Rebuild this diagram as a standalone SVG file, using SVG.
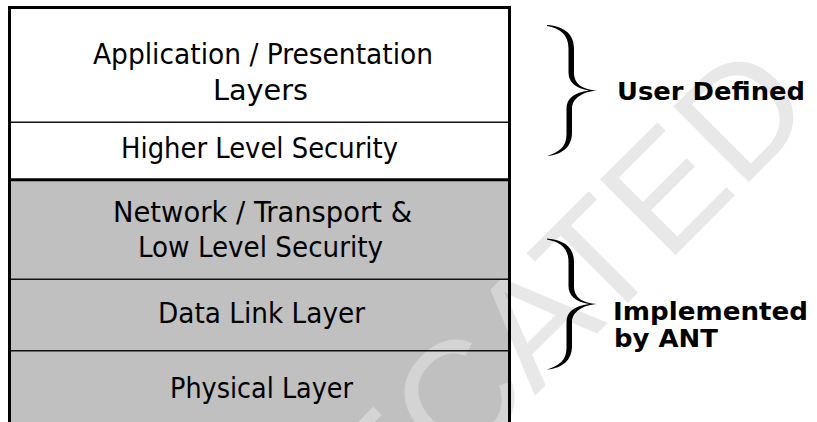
<svg xmlns="http://www.w3.org/2000/svg" width="817" height="422" viewBox="0 0 817 422">
<style>
.lbl{font-family:"DejaVu Sans Condensed","DejaVu Sans",Verdana,sans-serif;font-size:29px;fill:#000;text-anchor:middle}
.side{font-family:"DejaVu Sans","DejaVu Sans Condensed",Verdana,sans-serif;font-size:25px;font-weight:bold;fill:#000}
.div{stroke:#111;stroke-width:1.5;fill:none}
.brace{fill:#000}
.wm{font-family:"Liberation Sans",Arial,sans-serif;font-size:155px;fill:#dddddd;fill-opacity:0.68}
</style>
<defs>
<path id="brace" d="M0,-65.5 C18,-64 27,-56 27,-42 L27,-18 C27,-6 36,-1 50,0 C36,1 25,8 25,18 L25,42 C25,56 16,64 0,65.5 C12,62 19.5,56 19.5,44 L19.5,18 C19.5,8 27,2 42,0 C29,-2 21.5,-8 21.5,-18 L21.5,-42 C21.5,-56 13,-62 0,-64.5 Z"/>
</defs>
<rect x="0" y="0" width="817" height="422" fill="#fff"/>
<g id="stack-fills">
<rect x="9.5" y="7.5" width="500" height="172" fill="#fff"/>
<rect x="9.5" y="179.7" width="500" height="250" fill="#c0c0c0"/>
</g>
<text class="wm" transform="rotate(-45)" x="500" y="658" text-anchor="end">DEPRECATED</text>
<g id="connectors">
<line class="div" x1="11" y1="122.3" x2="508" y2="122.3"/>
<line x1="11" y1="179.7" x2="508" y2="179.7" stroke="#000" stroke-width="3"/>
<line class="div" x1="11" y1="279.3" x2="508" y2="279.3"/>
<line class="div" x1="11" y1="350.7" x2="508" y2="350.7"/>
<path d="M9.5,430 L9.5,7.5 L509.5,7.5 L509.5,430" fill="none" stroke="#000" stroke-width="3"/>
</g>
<g id="app-layers">
<text class="lbl" x="263" y="63.5" textLength="340" lengthAdjust="spacingAndGlyphs">Application / Presentation</text>
<text class="lbl" x="260.5" y="99.5" textLength="95" lengthAdjust="spacingAndGlyphs">Layers</text>
</g>
<g id="higher-security">
<text class="lbl" x="259.5" y="157.5" textLength="277" lengthAdjust="spacingAndGlyphs">Higher Level Security</text>
</g>
<g id="network-transport">
<text class="lbl" x="262.5" y="221.5" textLength="299" lengthAdjust="spacingAndGlyphs">Network / Transport &amp;</text>
<text class="lbl" x="260.5" y="256.5" textLength="245" lengthAdjust="spacingAndGlyphs">Low Level Security</text>
</g>
<g id="data-link">
<text class="lbl" x="261.5" y="323" textLength="207" lengthAdjust="spacingAndGlyphs">Data Link Layer</text>
</g>
<g id="physical">
<text class="lbl" x="261.5" y="398" textLength="183" lengthAdjust="spacingAndGlyphs">Physical Layer</text>
</g>
<g id="user-defined">
<use href="#brace" class="brace" transform="translate(547,90.5)"/>
<text class="side" x="617" y="100" textLength="188" lengthAdjust="spacingAndGlyphs">User Defined</text>
</g>
<g id="implemented-by-ant">
<use href="#brace" class="brace" transform="translate(547,304)"/>
<text class="side" x="613" y="320" textLength="195" lengthAdjust="spacingAndGlyphs">Implemented</text>
<text class="side" x="614" y="346.5" textLength="104" lengthAdjust="spacingAndGlyphs">by ANT</text>
</g>
</svg>
